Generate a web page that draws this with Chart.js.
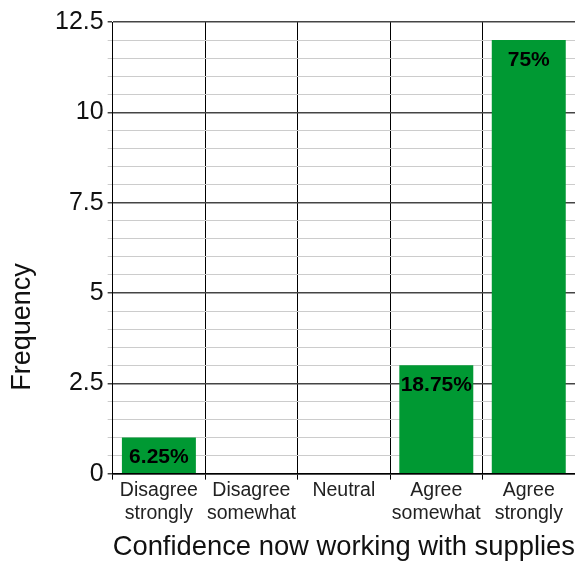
<!DOCTYPE html>
<html>
<head>
<meta charset="utf-8">
<script src="https://cdn.jsdelivr.net/npm/chart.js@4"></script>
<style>
  html, body { margin: 0; padding: 0; background: #fff; }
  #wrap { width: 575px; height: 561px; }
</style>
</head>
<body>
<div id="wrap"><canvas id="freqChart" width="575" height="561"></canvas></div>
<script>
// response categories (two-line labels) and counts
const categories = [
    ['Disagree', 'strongly'],
    ['Disagree', 'somewhat'],
    ['Neutral'],
    ['Agree', 'somewhat'],
    ['Agree', 'strongly']
];
const counts = [1, 0, 0, 3, 12];
const yTicks = [0, 2.5, 5, 7.5, 10, 12.5];

const total = counts.reduce((a, b) => a + b, 0);
const FONT = '"Liberation Sans", Arial, sans-serif';

function isMajor(v) {
    return yTicks.some(t => Math.abs(t - v) < 1e-6);
}

// percentage text inside the top of each non-empty bar
const barLabels = {
    id: 'barLabels',
    afterDatasetsDraw(chart) {
        const ctx = chart.ctx;
        const meta = chart.getDatasetMeta(0);
        ctx.save();
        ctx.font = 'bold 21px ' + FONT;
        ctx.fillStyle = '#000';
        ctx.textAlign = 'center';
        ctx.textBaseline = 'middle';
        meta.data.forEach((bar, i) => {
            if (!counts[i]) return;
            const pct = (counts[i] / total * 100) + '%';
            ctx.fillText(pct, bar.x, bar.y + 20);
        });
        ctx.restore();
    }
};

// y axis title, sitting a bit below the middle of the plot
const yTitle = {
    id: 'yTitle',
    afterDraw(chart) {
        const ctx = chart.ctx;
        ctx.save();
        ctx.translate(23, 327);
        ctx.rotate(-Math.PI / 2);
        ctx.font = '27px ' + FONT;
        ctx.fillStyle = '#111';
        ctx.textAlign = 'center';
        ctx.textBaseline = 'middle';
        ctx.fillText('Frequency', 0, 0);
        ctx.restore();
    }
};

const ctx = document.getElementById('freqChart').getContext('2d');
new Chart(ctx, {
    type: 'bar',
    data: {
        labels: categories,
        datasets: [{
            data: counts,
            backgroundColor: '#009933',
            borderWidth: 0,
            barPercentage: 0.8,
            categoryPercentage: 1.0
        }]
    },
    options: {
        responsive: false,
        animation: false,
        layout: { padding: { top: 22, right: 0, left: 51, bottom: 0 } },
        plugins: {
            legend: { display: false },
            tooltip: { enabled: false }
        },
        scales: {
            x: {
                grid: {
                    offset: true,
                    color: '#000',
                    lineWidth: 1,
                    tickLength: 6
                },
                border: { color: '#000', width: 1.5 },
                ticks: {
                    color: '#222',
                    font: { family: FONT, size: 19.5, lineHeight: 1.15 },
                    padding: 0,
                    maxRotation: 0,
                    autoSkip: false
                },
                title: {
                    display: true,
                    text: 'Confidence now working with supplies',
                    color: '#111',
                    font: { family: FONT, size: 27.5, lineHeight: 1.0 },
                    padding: { top: 9, bottom: 0 }
                }
            },
            y: {
                min: 0,
                max: 12.5,
                ticks: {
                    stepSize: 0.5,
                    autoSkip: false,
                    color: '#111',
                    font: { family: FONT, size: 25 },
                    padding: 4,
                    callback: function(value) {
                        return isMajor(value) ? String(value) : '';
                    }
                },
                grid: {
                    tickLength: 5,
                    color: c => isMajor(c.tick ? c.tick.value : 0) ? '#444' : '#ccc',
                    lineWidth: c => isMajor(c.tick ? c.tick.value : 0) ? 1.5 : 1
                },
                border: { color: '#000', width: 1 }
            }
        }
    },
    plugins: [barLabels, yTitle]
});
</script>
</body>
</html>
